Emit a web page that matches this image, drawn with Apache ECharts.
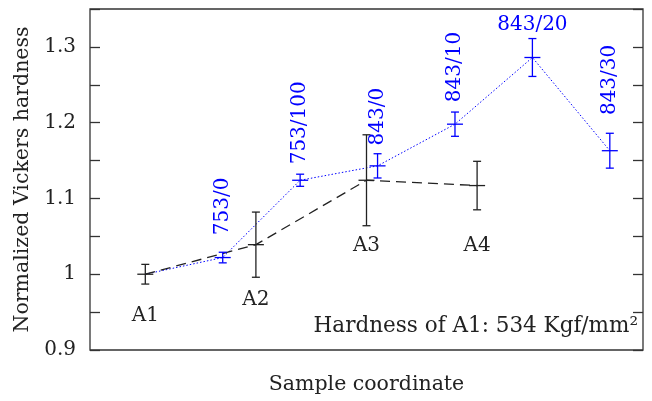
<!DOCTYPE html>
<html><head><meta charset="utf-8">
<script src="https://cdn.jsdelivr.net/npm/echarts@6/dist/echarts.min.js"></script>
<style>html,body{margin:0;padding:0;background:#fff}#c{width:652px;height:401px}</style>
</head><body><div id="c"></div>
<script>
// Black series (A1..A4)
const blackX = [1, 3, 5, 7];
const blackY = [1.000, 1.039, 1.124, 1.117];
const blackErr = [0.013, 0.043, 0.060, 0.032];
const blackLabels = ['A1', 'A2', 'A3', 'A4'];
const blackLabelY = [0.945, 0.966, 1.038, 1.038];
// Blue series (treatments), starting from A1
const blueX = [2.4, 3.8, 5.2, 6.6, 8.0, 9.4];
const blueY = [1.022, 1.124, 1.143, 1.198, 1.286, 1.163];
const blueErr = [0.007, 0.008, 0.016, 0.016, 0.025, 0.023];
const blueLabels = ['753/0', '753/100', '843/0', '843/10', '843/20', '843/30'];
const blueLabelY = [1.0515, 1.145, 1.170, 1.227, 1.329, 1.210];
const blueLabelRot = [true, true, true, true, false, true];
const yTicks = [0.9, 1.0, 1.1, 1.2, 1.3];

const FONT = 'DejaVu Serif';
const BLACK = '#222222', BLUE = '#0000ff';

const chart = echarts.init(document.getElementById('c'), null, {renderer: 'canvas'});

function errRender(color) {
  return function (params, api) {
    const x = api.value(0), y = api.value(1), e = api.value(2);
    const c = api.coord([x, y]), hi = api.coord([x, y + e]), lo = api.coord([x, y - e]);
    const st = {stroke: color, lineWidth: 1.3};
    const cap = 4, arm = 8;
    return {type: 'group', children: [
      {type: 'line', shape: {x1: c[0], y1: hi[1], x2: c[0], y2: lo[1]}, style: st},
      {type: 'line', shape: {x1: c[0] - cap, y1: hi[1], x2: c[0] + cap, y2: hi[1]}, style: st},
      {type: 'line', shape: {x1: c[0] - cap, y1: lo[1], x2: c[0] + cap, y2: lo[1]}, style: st},
      {type: 'line', shape: {x1: c[0] - arm, y1: c[1], x2: c[0] + arm, y2: c[1]}, style: st}
    ]};
  };
}
function labelRender(color, fs) {
  return function (params, api) {
    const x = api.value(0), y = api.value(1), rot = api.value(3);
    const c = api.coord([x, y]);
    const txt = (color === BLUE ? blueLabels : blackLabels)[params.dataIndex];
    return {type: 'text', x: c[0], y: c[1], rotation: rot ? Math.PI / 2 : 0,
      style: {text: txt, fill: color, font: 'normal ' + fs + 'px "' + FONT + '", serif',
        align: rot ? 'left' : 'center', verticalAlign: 'middle'}};
  };
}

const option = {
  animation: false,
  textStyle: {fontFamily: FONT},
  grid: {left: 90, right: 9, top: 9, bottom: 51, containLabel: false, outerBoundsMode: 'none',
    show: true, borderColor: '#333', borderWidth: 1.3, backgroundColor: 'transparent'},
  xAxis: [{type: 'value', min: 0, max: 10, name: 'Sample coordinate', nameLocation: 'middle', nameGap: 24,
    nameTextStyle: {fontFamily: FONT, fontSize: 20.5, color: BLACK},
    axisLine: {show: false}, axisTick: {show: false}, axisLabel: {show: false}, splitLine: {show: false}}],
  yAxis: [
    {type: 'value', min: 0.9, max: 1.35, interval: 0.05, position: 'left',
      name: 'Normalized Vickers hardness', nameLocation: 'middle', nameGap: 54, nameRotate: 90,
      nameTextStyle: {fontFamily: FONT, fontSize: 20.5, color: BLACK},
      axisLine: {show: false}, axisTick: {show: true, inside: true, length: 10, lineStyle: {color: '#333', width: 1.3}},
      axisLabel: {fontFamily: FONT, fontSize: 20, color: BLACK, margin: 14,
        formatter: v => { const r = Math.round(v * 100) / 100; for (const t of yTicks) if (Math.abs(t - r) < 1e-6) return String(Math.round(t * 10) / 10); return ''; }},
      splitLine: {show: false}},
    {type: 'value', min: 0.9, max: 1.35, interval: 0.05, position: 'right',
      axisLine: {show: false}, axisTick: {show: true, inside: true, length: 10, lineStyle: {color: '#333', width: 1.3}},
      axisLabel: {show: false}, splitLine: {show: false}}
  ],
  series: [
    {type: 'line', data: [[blackX[0], blackY[0]]].concat(blueX.map((x, i) => [x, blueY[i]])), symbol: 'none',
      lineStyle: {color: BLUE, width: 1, type: [1.5, 2]}, z: 2},
    {type: 'line', data: blackX.map((x, i) => [x, blackY[i]]), symbol: 'none',
      lineStyle: {color: BLACK, width: 1.3, type: [10, 6]}, z: 3},
    {type: 'custom', renderItem: errRender(BLUE), data: blueX.map((x, i) => [x, blueY[i], blueErr[i]]), z: 4},
    {type: 'custom', renderItem: errRender(BLACK), data: blackX.map((x, i) => [x, blackY[i], blackErr[i]]), z: 5},
    {type: 'custom', renderItem: labelRender(BLUE, 20), data: blueX.map((x, i) => [x, blueLabelY[i], 0, blueLabelRot[i] ? 1 : 0]), z: 6},
    {type: 'custom', renderItem: labelRender(BLACK, 20), data: blackX.map((x, i) => [x, blackLabelY[i], 0, 0]), z: 6}
  ],
  graphic: [{type: 'text', right: 14, top: 315, style: {text: 'Hardness of A1: 534 Kgf/mm²', fill: BLACK, fontFamily: FONT, fontSize: 21.5}}]
};
chart.setOption(option);
</script></body></html>
